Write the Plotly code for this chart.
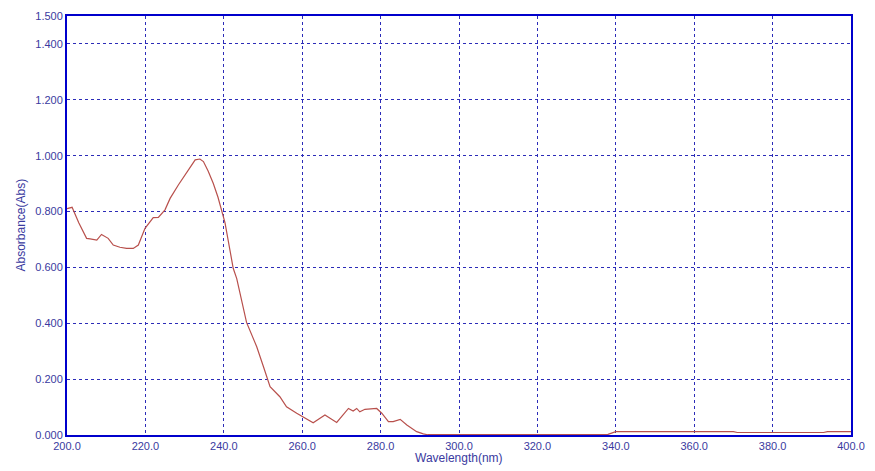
import plotly.graph_objects as go

wavelength = [200.0, 201.3, 203.0, 205.0, 205.9, 207.6, 208.8, 210.5, 211.8, 213.5, 215.2, 216.9,
              218.2, 219.9, 222.0, 223.3, 225.0, 226.3, 228.4, 230.5, 232.7, 233.9, 234.8, 236.0,
              237.3, 238.5, 239.5, 240.3, 242.4, 243.3, 245.8, 247.5, 248.4, 250.1, 251.8, 254.3,
              256.0, 258.6, 262.8, 265.8, 268.8, 271.8, 273.0, 273.9, 274.7, 276.0, 279.0, 280.3,
              282.0, 283.2, 285.0, 286.7, 289.2, 290.9, 292.0, 300.0, 320.0, 338.0, 340.0, 355.0,
              370.0, 371.0, 385.0, 393.0, 394.0, 400.0]
absorbance = [0.810, 0.815, 0.760, 0.704, 0.702, 0.698, 0.718, 0.704, 0.680, 0.672, 0.668, 0.668,
              0.680, 0.740, 0.778, 0.779, 0.806, 0.847, 0.895, 0.937, 0.985, 0.988, 0.979, 0.945,
              0.901, 0.852, 0.806, 0.760, 0.597, 0.560, 0.403, 0.346, 0.316, 0.245, 0.173, 0.137,
              0.101, 0.078, 0.044, 0.072, 0.045, 0.095, 0.086, 0.095, 0.083, 0.092, 0.095, 0.078,
              0.048, 0.048, 0.056, 0.036, 0.012, 0.004, 0.001, 0.001, 0.001, 0.002, 0.012, 0.012,
              0.012, 0.009, 0.009, 0.009, 0.012, 0.012]

x_ticks = [200, 220, 240, 260, 280, 300, 320, 340, 360, 380, 400]
x_labels = ["200.0", "220.0", "240.0", "260.0", "280.0", "300.0", "320.0", "340.0", "360.0", "380.0", "400.0"]
y_ticks = [0.0, 0.2, 0.4, 0.6, 0.8, 1.0, 1.2, 1.4, 1.5]
y_labels = ["0.000", "0.200", "0.400", "0.600", "0.800", "1.000", "1.200", "1.400", "1.500"]

label_color = "#3a3aa0"
grid_color = "#2c2cb8"
border_color = "#0000cc"
font_family = "Liberation Sans, Arial, sans-serif"

fig = go.Figure()
fig.add_trace(go.Scatter(x=wavelength, y=absorbance, mode="lines",
                         line=dict(color="#b8504c", width=1.2), hoverinfo="skip"))

fig.update_layout(
    width=867, height=463,
    margin=dict(l=59, r=24, t=8, b=36, autoexpand=False),
    paper_bgcolor="white", plot_bgcolor="white",
    showlegend=False,
    font=dict(family=font_family, size=11, color=label_color),
    xaxis=dict(range=[200, 400], tickvals=x_ticks, ticktext=x_labels,
               showgrid=True, gridcolor=grid_color, griddash="dot", gridwidth=1,
               showline=True, linecolor=border_color, linewidth=2, mirror=True,
               ticks="", zeroline=False, automargin=False,
               tickfont=dict(size=11, color=label_color)),
    yaxis=dict(range=[0, 1.5], tickvals=y_ticks, ticktext=y_labels,
               showgrid=True, gridcolor=grid_color, griddash="dot", gridwidth=1,
               showline=True, linecolor=border_color, linewidth=2, mirror=True,
               ticks="", zeroline=False, automargin=False,
               tickfont=dict(size=11, color=label_color)),
    annotations=[
        dict(text="Wavelength(nm)", xref="paper", yref="paper", x=0.5, y=0,
             yshift=-23, xanchor="center", yanchor="middle", showarrow=False,
             font=dict(size=12, color=label_color)),
        dict(text="Absorbance(Abs)", xref="paper", yref="paper", x=0, y=0.5,
             xshift=-47, xanchor="center", yanchor="middle", showarrow=False,
             textangle=-90, font=dict(size=12, color=label_color)),
    ],
)

fig.write_html("out.html")
